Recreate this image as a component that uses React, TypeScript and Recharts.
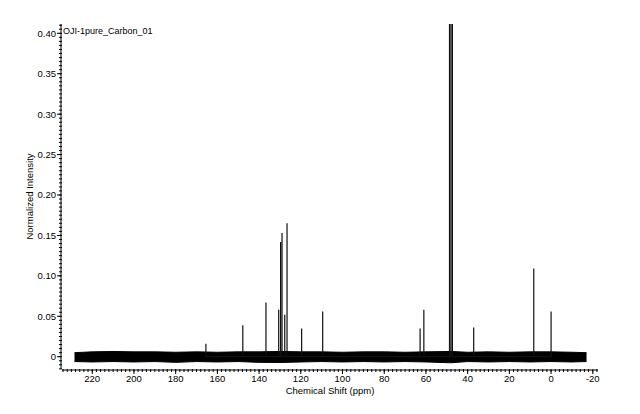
import { ComposedChart, Line, Area, XAxis, YAxis, Label } from 'recharts'

// axis ticks
const xTicks = [220, 200, 180, 160, 140, 120, 100, 80, 60, 40, 20, 0, -20]
const yTicks = [0, 0.05, 0.1, 0.15, 0.2, 0.25, 0.3, 0.35, 0.4]

// 13C peaks (ppm / normalized height), solvent lines go off the top
const peakShifts = [165.5, 147.8, 136.7, 130.6, 129.7, 129.0, 127.7, 126.6, 119.6, 109.5, 62.8, 61.0, 48.7, 48.0, 47.3, 37.1, 8.3, 0.0]
const peakHeights = [0.016, 0.039, 0.067, 0.058, 0.142, 0.153, 0.052, 0.165, 0.035, 0.056, 0.035, 0.058, 0.6, 0.6, 0.6, 0.036, 0.109, 0.056]

// baseline noise envelope
const noiseShifts = [228.5, 220, 210, 200, 190, 180, 170, 160, 150, 140, 130, 120, 110, 100, 90, 80, 70, 60, 48, 40, 30, 20, 10, 0, -10, -17]
const noiseLow = [-0.006, -0.0065, -0.006, -0.0065, -0.006, -0.007, -0.006, -0.0065, -0.006, -0.007, -0.0072, -0.0065, -0.006, -0.0065, -0.006, -0.0065, -0.006, -0.0065, -0.0075, -0.006, -0.0065, -0.006, -0.0065, -0.006, -0.0065, -0.006]
const noiseHigh = [0.005, 0.006, 0.0065, 0.006, 0.006, 0.0055, 0.006, 0.0055, 0.006, 0.006, 0.0065, 0.006, 0.006, 0.0055, 0.006, 0.006, 0.0055, 0.006, 0.0065, 0.0055, 0.006, 0.0055, 0.006, 0.006, 0.0055, 0.005]

const xDomain: [number, number] = [-22.5, 234.5]
const yDomain: [number, number] = [-0.0152, 0.4115]

const minorX: number[] = []
for (let v = 234; v >= -22; v -= 2) minorX.push(v)
const minorY: number[] = []
for (let i = -3; i <= 82; i++) minorY.push(+(i * 0.005).toFixed(3))

const sticks = peakShifts.flatMap((ppm, i) => [
  { ppm, y: 0 },
  { ppm, y: peakHeights[i] },
  { ppm, y: 0 },
])

const noise = noiseShifts.map((ppm, i) => ({ ppm, band: [noiseLow[i], noiseHigh[i]] }))

const font = { fontFamily: '"Liberation Sans", Arial, sans-serif', fontSize: 9.5, fill: '#000' }

export default function App() {
  return (
    <div style={{ position: 'relative', width: 632, height: 406, background: '#fff' }}>
      <ComposedChart width={632} height={406} margin={{ top: 16, right: 42, bottom: 0, left: 0 }}>
        {/* minor ticks: id sorts before "main" so it sits against the plot */}
        <XAxis
          xAxisId="aux"
          type="number"
          dataKey="ppm"
          domain={xDomain}
          reversed
          allowDataOverflow
          ticks={minorX}
          interval={0}
          height={1}
          axisLine={false}
          tickSize={3}
          tickLine={{ stroke: '#000' }}
          tickFormatter={() => ''}
        />
        <XAxis
          xAxisId="main"
          type="number"
          dataKey="ppm"
          domain={xDomain}
          reversed
          allowDataOverflow
          ticks={xTicks}
          interval={0}
          height={44}
          axisLine={{ stroke: '#000' }}
          tickLine={{ stroke: '#000' }}
          tickSize={4}
          tickMargin={1}
          tick={font}
        >
          <Label value="Chemical Shift (ppm)" position="insideBottom" offset={20} style={font} />
        </XAxis>
        <YAxis
          yAxisId="aux"
          type="number"
          domain={yDomain}
          allowDataOverflow
          ticks={minorY}
          interval={0}
          width={1}
          axisLine={false}
          tickSize={3}
          tickLine={{ stroke: '#000' }}
          tickFormatter={() => ''}
        />
        <YAxis
          yAxisId="main"
          type="number"
          domain={yDomain}
          allowDataOverflow
          ticks={yTicks}
          interval={0}
          width={53}
          axisLine={{ stroke: '#000' }}
          tickLine={{ stroke: '#000' }}
          tickSize={4}
          tickMargin={1}
          tick={font}
          tickFormatter={(v: number) => (v === 0 ? '0' : v.toFixed(2))}
        >
          <Label
            content={({ viewBox }: any) => {
              const cx = 22
              const cy = viewBox.y + viewBox.height / 2
              return (
                <text x={cx} y={cy} transform={`rotate(-90 ${cx} ${cy})`} textAnchor="middle" dominantBaseline="middle" style={font}>
                  Normalized Intensity
                </text>
              )
            }}
          />
        </YAxis>
        <Area
          xAxisId="main"
          yAxisId="main"
          data={noise}
          dataKey="band"
          type="linear"
          stroke="#000"
          strokeWidth={1}
          fill="#000"
          fillOpacity={1}
          dot={false}
          activeDot={false}
          isAnimationActive={false}
        />
        <Line
          xAxisId="main"
          yAxisId="main"
          data={sticks}
          dataKey="y"
          type="linear"
          stroke="#111"
          strokeWidth={1.2}
          dot={false}
          activeDot={false}
          isAnimationActive={false}
        />
      </ComposedChart>
      <div style={{ position: 'absolute', left: 55, top: 18, fontFamily: font.fontFamily, fontSize: 9, color: '#000' }}>
        OJI-1pure_Carbon_01
      </div>
    </div>
  )
}
